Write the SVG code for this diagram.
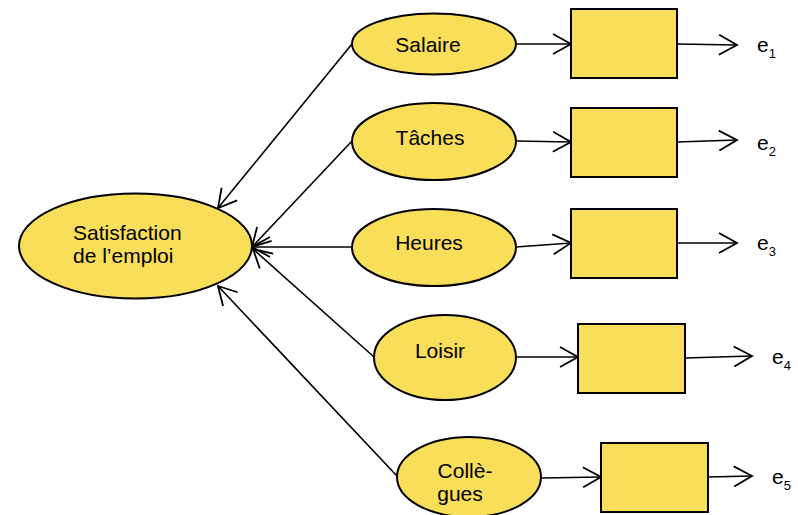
<svg xmlns="http://www.w3.org/2000/svg" width="798" height="515" viewBox="0 0 798 515">
  <defs>
    <marker id="arr" markerUnits="userSpaceOnUse" markerWidth="24" markerHeight="24" viewBox="-20 -12 24 24" refX="0" refY="0" orient="auto">
      <path d="M-18,-10 L0,0 L-18,10" fill="none" stroke="#000" stroke-width="1.8"/>
    </marker>
  </defs>
  <style>
    .node { fill: #F9DE59; stroke: #000; stroke-width: 2; }
    .lbl { font-family: "Liberation Sans", Arial, sans-serif; font-size: 21px; fill: #000; }
    .mid { text-anchor: middle; }
    .sub { font-size: 13px; }
    .edge { fill: none; stroke: #000; stroke-width: 1.6; marker-end: url(#arr); }
  </style>

  <rect width="798" height="515" fill="#fff"/>

  <g id="connectors">
    <!-- indicators to the latent construct -->
    <line class="edge" x1="352" y1="44" x2="218" y2="208"/>
    <line class="edge" x1="352" y1="141" x2="252" y2="247"/>
    <line class="edge" x1="352" y1="247" x2="252" y2="247"/>
    <line class="edge" x1="374" y1="357" x2="253" y2="249"/>
    <line class="edge" x1="397" y1="476" x2="218" y2="286"/>
    <!-- ellipses to boxes -->
    <line class="edge" x1="516" y1="44" x2="571" y2="44"/>
    <line class="edge" x1="516" y1="141" x2="571" y2="142"/>
    <line class="edge" x1="516" y1="247" x2="571" y2="243"/>
    <line class="edge" x1="516" y1="357" x2="578" y2="357"/>
    <line class="edge" x1="541" y1="478" x2="601" y2="477"/>
    <!-- boxes to error terms -->
    <line class="edge" x1="677" y1="44" x2="737" y2="45"/>
    <line class="edge" x1="677" y1="142" x2="737" y2="140"/>
    <line class="edge" x1="677" y1="243" x2="737" y2="243"/>
    <line class="edge" x1="685" y1="358" x2="752" y2="356"/>
    <line class="edge" x1="708" y1="477" x2="752" y2="476"/>
  </g>

  <g id="satisfaction">
    <ellipse class="node" cx="135.5" cy="246" rx="116.5" ry="52.5"/>
    <text class="lbl" x="73" y="240">Satisfaction</text>
    <text class="lbl" x="73" y="263">de l’emploi</text>
  </g>

  <g id="salaire">
    <ellipse class="node" cx="434" cy="44" rx="82" ry="30.5"/>
    <text class="lbl mid" x="428" y="52">Salaire</text>
  </g>
  <g id="taches">
    <ellipse class="node" cx="434" cy="141.5" rx="82" ry="38.5"/>
    <text class="lbl mid" x="430" y="145">Tâches</text>
  </g>
  <g id="heures">
    <ellipse class="node" cx="434" cy="247.5" rx="82" ry="38.5"/>
    <text class="lbl mid" x="429" y="250">Heures</text>
  </g>
  <g id="loisir">
    <ellipse class="node" cx="445" cy="357.5" rx="71" ry="42.5"/>
    <text class="lbl mid" x="440" y="358">Loisir</text>
  </g>
  <g id="collegues">
    <ellipse class="node" cx="469" cy="477" rx="72" ry="40"/>
    <text class="lbl mid" x="465" y="478">Collè-</text>
    <text class="lbl mid" x="460" y="501">gues</text>
  </g>

  <g id="box1"><rect class="node" x="571" y="9" width="106" height="69"/></g>
  <g id="box2"><rect class="node" x="571" y="108" width="106" height="69"/></g>
  <g id="box3"><rect class="node" x="571" y="209" width="106" height="69"/></g>
  <g id="box4"><rect class="node" x="578" y="324" width="107" height="69"/></g>
  <g id="box5"><rect class="node" x="601" y="443" width="107" height="69"/></g>

  <g id="e1"><text class="lbl" x="757" y="52">e<tspan class="sub" dy="6">1</tspan></text></g>
  <g id="e2"><text class="lbl" x="757" y="150">e<tspan class="sub" dy="6">2</tspan></text></g>
  <g id="e3"><text class="lbl" x="757" y="250">e<tspan class="sub" dy="6">3</tspan></text></g>
  <g id="e4"><text class="lbl" x="772" y="364">e<tspan class="sub" dy="6">4</tspan></text></g>
  <g id="e5"><text class="lbl" x="772" y="484">e<tspan class="sub" dy="6">5</tspan></text></g>
</svg>
